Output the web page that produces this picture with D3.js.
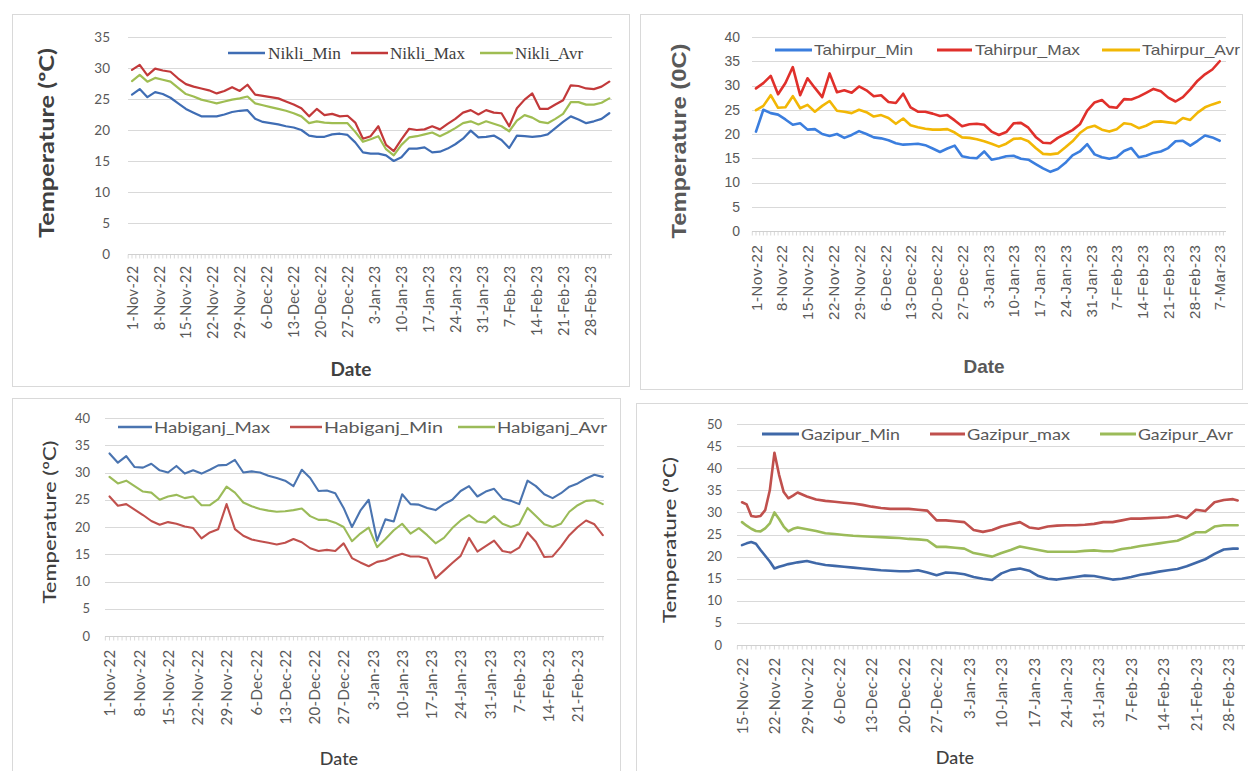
<!DOCTYPE html>
<html>
<head>
<meta charset="utf-8">
<script src="https://cdn.jsdelivr.net/npm/d3@7"></script>
<style>
  body { margin: 0; background: #fff; }
  svg { display: block; }
</style>
</head>
<body>
<svg id="chart" width="1248" height="771"></svg>
<script>
// ---------- Nikli (1 Nov 2022 onward, every second day) ----------
const nikliDays = d3.range(0, 125, 2);
const nikliTicks = ["1-Nov-22","8-Nov-22","15-Nov-22","22-Nov-22","29-Nov-22","6-Dec-22","13-Dec-22","20-Dec-22","27-Dec-22","3-Jan-23","10-Jan-23","17-Jan-23","24-Jan-23","31-Jan-23","7-Feb-23","14-Feb-23","21-Feb-23","28-Feb-23"];
const nikliMin = [25.7,26.6,25.3,26.1,25.8,25.2,24.3,23.4,22.8,22.2,22.2,22.2,22.5,22.9,23.1,23.2,21.8,21.3,21.1,20.9,20.6,20.4,20.0,19.1,18.9,18.9,19.3,19.4,19.2,18.0,16.4,16.2,16.2,15.9,15.0,15.6,17.0,17.0,17.2,16.4,16.5,17.0,17.7,18.6,19.9,18.8,18.9,19.1,18.4,17.1,19.1,19.0,18.9,19.0,19.3,20.3,21.3,22.2,21.7,21.1,21.4,21.8,22.7];
const nikliMax = [29.7,30.5,28.8,29.9,29.6,29.4,28.3,27.4,27.0,26.7,26.4,25.9,26.3,26.9,26.3,27.3,25.7,25.5,25.3,25.1,24.6,24.1,23.5,22.2,23.4,22.4,22.6,22.2,22.3,21.2,18.6,19.0,20.6,17.6,16.6,18.5,20.2,20.0,20.1,20.6,20.1,21.0,21.8,22.8,23.2,22.5,23.2,22.8,22.7,20.6,23.5,24.9,25.9,23.4,23.4,24.1,24.8,27.2,27.1,26.7,26.6,27.0,27.8];
const nikliAvr = [27.9,28.9,27.8,28.4,28.1,27.8,26.8,25.8,25.4,24.9,24.6,24.3,24.6,24.9,25.1,25.4,24.3,24.0,23.7,23.4,23.1,22.7,22.2,21.1,21.4,21.2,21.1,21.1,21.1,19.7,18.1,18.5,19.0,16.9,15.9,17.6,18.8,19.0,19.3,19.6,19.0,19.6,20.3,21.1,21.4,20.9,21.4,21.0,20.6,19.8,21.5,22.4,22.0,21.3,21.1,21.8,22.6,24.5,24.5,24.1,24.1,24.4,25.1];

// ---------- Tahirpur (1 Nov 2022 onward, every second day) ----------
const tahirpurDays = d3.range(0, 127, 2);
const tahirpurTicks = ["1-Nov-22","8-Nov-22","15-Nov-22","22-Nov-22","29-Nov-22","6-Dec-22","13-Dec-22","20-Dec-22","27-Dec-22","3-Jan-23","10-Jan-23","17-Jan-23","24-Jan-23","31-Jan-23","7-Feb-23","14-Feb-23","21-Feb-23","28-Feb-23","7-Mar-23"];
const tahirpurMin = [20.5,25.0,24.3,24.0,23.0,21.9,22.2,20.9,21.0,20.0,19.6,20.0,19.2,19.8,20.6,20.0,19.3,19.1,18.7,18.1,17.8,17.9,18.0,17.7,17.0,16.3,17.0,17.6,15.4,15.1,15.0,16.4,14.7,15.0,15.4,15.5,14.9,14.7,13.8,12.9,12.2,12.8,14.0,15.6,16.4,17.9,15.8,15.2,14.9,15.2,16.5,17.1,15.2,15.5,16.1,16.4,17.1,18.5,18.6,17.6,18.6,19.7,19.3,18.6];
const tahirpurMax = [29.4,30.5,32.0,28.2,30.5,33.8,28.0,31.5,29.5,27.6,32.5,28.6,29.0,28.5,29.8,29.0,27.8,28.0,26.6,26.4,28.3,25.5,24.6,24.6,24.2,23.7,23.9,22.8,21.6,22.0,22.1,21.9,20.5,19.8,20.4,22.2,22.3,21.3,19.4,18.2,18.1,19.2,20.0,20.8,22.0,24.8,26.5,27.0,25.6,25.4,27.2,27.1,27.7,28.5,29.3,28.8,27.5,26.7,27.6,29.2,31.0,32.3,33.3,35.0];
const tahirpurAvr = [24.9,25.8,28.0,25.4,25.5,27.8,25.3,26.0,24.6,25.8,26.8,24.8,24.6,24.3,25.0,24.5,23.6,23.9,23.3,22.1,23.2,21.8,21.4,21.1,20.9,20.9,21.0,20.3,19.3,19.2,18.9,18.5,18.0,17.4,18.0,19.0,19.1,18.5,17.1,15.9,15.8,16.0,17.2,18.5,20.2,21.3,21.7,20.9,20.5,21.0,22.2,22.0,21.2,21.7,22.5,22.6,22.4,22.2,23.3,22.9,24.4,25.5,26.1,26.6];

// ---------- Habiganj (1 Nov 2022 onward, every second day) ----------
const habiganjDays = d3.range(0, 119, 2);
const habiganjTicks = ["1-Nov-22","8-Nov-22","15-Nov-22","22-Nov-22","29-Nov-22","6-Dec-22","13-Dec-22","20-Dec-22","27-Dec-22","3-Jan-23","10-Jan-23","17-Jan-23","24-Jan-23","31-Jan-23","7-Feb-23","14-Feb-23","21-Feb-23"];
const habiganjMax = [33.5,31.8,33.0,31.0,30.9,31.6,30.4,30.0,31.2,29.8,30.4,29.8,30.5,31.3,31.4,32.3,30.0,30.2,30.0,29.4,29.0,28.5,27.5,30.5,29.0,26.6,26.7,26.2,23.5,20.0,23.0,25.0,17.5,21.4,21.0,26.0,24.2,24.1,23.5,23.1,24.2,25.0,26.6,27.5,25.6,26.5,27.0,25.2,24.8,24.2,28.5,27.5,26.0,25.3,26.2,27.4,28.0,28.9,29.6,29.2];
const habiganjMin = [25.6,23.9,24.2,23.2,22.2,21.1,20.4,20.9,20.6,20.1,19.8,17.9,19.0,19.6,24.2,19.6,18.4,17.7,17.4,17.1,16.8,17.1,17.8,17.2,16.1,15.6,15.8,15.6,17.0,14.3,13.5,12.8,13.6,13.9,14.6,15.1,14.6,14.6,14.2,10.6,12.0,13.4,14.7,18.0,15.5,16.5,17.5,15.6,15.3,16.2,19.0,17.3,14.5,14.6,16.4,18.5,20.0,21.2,20.5,18.5];
const habiganjAvr = [29.2,28.0,28.5,27.5,26.5,26.3,25.0,25.6,25.9,25.3,25.6,24.0,24.0,25.1,27.4,26.3,24.5,23.8,23.3,23.0,22.8,22.9,23.1,23.4,22.0,21.3,21.3,20.8,20.0,17.4,18.8,19.9,16.3,17.8,19.4,20.6,18.8,19.8,18.5,17.0,18.0,19.8,21.2,22.2,21.0,20.8,22.0,20.6,20.0,20.5,23.5,22.0,20.5,20.0,20.6,22.8,24.0,24.8,24.9,24.2];

// ---------- Gazipur (15 Nov 2022 onward; daily for the first 12 days) ----------
const gazipurDays = d3.range(0, 13).concat(d3.range(14, 107, 2), [107]);
const gazipurTicks = ["15-Nov-22","22-Nov-22","29-Nov-22","6-Dec-22","13-Dec-22","20-Dec-22","27-Dec-22","3-Jan-23","10-Jan-23","17-Jan-23","24-Jan-23","31-Jan-23","7-Feb-23","14-Feb-23","21-Feb-23","28-Feb-23"];
const gazipurMin = [22.6,23.0,23.3,22.9,21.5,20.2,18.9,17.3,17.7,18.0,18.3,18.5,18.7,19.0,18.5,18.1,17.9,17.7,17.5,17.3,17.1,16.9,16.8,16.7,16.7,16.9,16.4,15.8,16.4,16.3,16.0,15.4,15.0,14.7,16.2,17.0,17.3,16.8,15.6,15.0,14.8,15.1,15.4,15.7,15.6,15.2,14.8,15.0,15.4,15.9,16.2,16.6,16.9,17.2,17.8,18.6,19.4,20.6,21.6,21.8,21.8];
const gazipurMax = [32.3,31.8,29.2,29.0,29.2,30.5,35.0,43.5,38.5,34.6,33.2,33.8,34.5,33.6,32.9,32.6,32.4,32.2,32.0,31.7,31.3,31.0,30.8,30.8,30.8,30.6,30.4,28.2,28.2,28.0,27.8,26.0,25.6,26.0,26.8,27.3,27.8,26.6,26.3,26.8,27.0,27.1,27.1,27.2,27.4,27.8,27.8,28.2,28.6,28.6,28.7,28.8,28.9,29.3,28.7,30.6,30.3,32.3,32.8,33.0,32.7];
const gazipurAvr = [27.8,27.0,26.3,25.8,25.7,26.4,27.5,30.0,28.5,26.8,25.7,26.3,26.6,26.2,25.8,25.3,25.1,24.9,24.7,24.6,24.5,24.4,24.3,24.2,24.0,23.9,23.7,22.2,22.2,22.0,21.8,20.8,20.4,20.0,20.8,21.5,22.3,21.9,21.5,21.1,21.1,21.1,21.1,21.3,21.4,21.2,21.2,21.7,22.0,22.4,22.7,23.0,23.3,23.6,24.5,25.5,25.5,26.8,27.1,27.1,27.1];

const svg = d3.select("#chart");
const parseISO = d3.timeParse("%Y-%m-%d");
const parseTick = d3.timeParse("%d-%b-%y");

const LATO = "Lato, 'Open Sans', sans-serif";
const ARIAL = "'Liberation Sans', Arial, sans-serif";
const SERIF = "'Liberation Serif', 'Times New Roman', serif";

const panels = [
  {
    frame: [12, 14, 617, 372], start: "2022-11-01", days: nikliDays, ticks: nikliTicks,
    dom: [-1.04, 124.7], left: 128, right: 612, top: 37, bottom: 254, yMax: 35,
    yLabelX: 110, xLabelGap: 11, tickFont: LATO, tickSize: 13.5, xTickSize: 14.5, xTickSpacing: 0.3, tickColor: "#595959",
    lw: 2.2,
    series: [
      { v: nikliMin, c: "#3f6db4", name: "Nikli_Min", lg: [228, 265, 268, 73] },
      { v: nikliMax, c: "#c2393a", name: "Nikli_Max", lg: [351, 388, 390, 75] },
      { v: nikliAvr, c: "#9fbd52", name: "Nikli_Avr", lg: [480, 513, 515, 68] }
    ],
    legendY: 53, legendFont: SERIF, legendSize: 16, legendColor: "#404040",
    yTitle: "Temperature (ºC)", yTitlePos: [47, 143], yTitleLen: 190, yTitleFont: LATO, yTitleSize: 20, yTitleWeight: 700, titleColor: "#404040",
    xTitlePos: [351, 369], xTitleFont: LATO, xTitleSize: 19, xTitleWeight: 700
  },
  {
    frame: [640, 14, 602, 375], start: "2022-11-01", days: tahirpurDays, ticks: tahirpurTicks,
    dom: [-1.09, 127.7], left: 752, right: 1226, top: 37, bottom: 231, yMax: 40,
    yLabelX: 740, xLabelGap: 13, tickFont: ARIAL, tickSize: 14, xTickSize: 15, xTickSpacing: 0.6, tickColor: "#595959",
    lw: 2.6,
    series: [
      { v: tahirpurMin, c: "#3b7ede", name: "Tahirpur_Min", lg: [775, 812, 814, 99] },
      { v: tahirpurMax, c: "#e0302b", name: "Tahirpur_Max", lg: [937, 972, 975, 105] },
      { v: tahirpurAvr, c: "#f2b705", name: "Tahirpur_Avr", lg: [1102, 1140, 1142, 98] }
    ],
    legendY: 50, legendFont: ARIAL, legendSize: 15, legendColor: "#595959",
    yTitle: "Temperature (0C)", yTitlePos: [679, 141], yTitleLen: 195, yTitleFont: ARIAL, yTitleSize: 20, yTitleWeight: 700, titleColor: "#595959",
    xTitlePos: [984, 366], xTitleFont: ARIAL, xTitleSize: 19, xTitleWeight: 700
  },
  {
    frame: [12, 398, 608, 380], start: "2022-11-01", days: habiganjDays, ticks: habiganjTicks,
    dom: [-1.08, 118.3], left: 105, right: 604, top: 418, bottom: 636, yMax: 40,
    yLabelX: 90, xLabelGap: 13, tickFont: LATO, tickSize: 13, xTickSize: 15, xTickSpacing: 0.3, tickColor: "#595959",
    lw: 2.1,
    series: [
      { v: habiganjMax, c: "#4a74b0", name: "Habiganj_Max", lg: [118, 152, 154, 116] },
      { v: habiganjMin, c: "#c0504d", name: "Habiganj_Min", lg: [290, 322, 324, 119] },
      { v: habiganjAvr, c: "#9bbb59", name: "Habiganj_Avr", lg: [458, 495, 497, 110] }
    ],
    legendY: 427, legendFont: LATO, legendSize: 16, legendColor: "#595959",
    yTitle: "Temperature (ºC)", yTitlePos: [50, 522], yTitleLen: 163, yTitleFont: LATO, yTitleSize: 18, yTitleWeight: 500, titleColor: "#404040",
    xTitlePos: [339, 759], xTitleFont: LATO, xTitleSize: 18, xTitleWeight: 500
  },
  {
    frame: [636, 403, 620, 380], start: "2022-11-15", days: gazipurDays, ticks: gazipurTicks,
    dom: [-1.08, 108.6], left: 737, right: 1245, top: 424, bottom: 645, yMax: 50,
    yLabelX: 722, xLabelGap: 12, tickFont: LATO, tickSize: 13, xTickSize: 15, xTickSpacing: 0.4, tickColor: "#595959",
    lw: 2.6,
    series: [
      { v: gazipurMin, c: "#3f68a8", name: "Gazipur_Min", lg: [762, 799, 801, 99] },
      { v: gazipurMax, c: "#c0504d", name: "Gazipur_max", lg: [930, 965, 967, 103] },
      { v: gazipurAvr, c: "#9bbb59", name: "Gazipur_Avr", lg: [1100, 1136, 1138, 95] }
    ],
    legendY: 434, legendFont: LATO, legendSize: 16, legendColor: "#595959",
    yTitle: "Temperature (ºC)", yTitlePos: [670, 540], yTitleLen: 166, yTitleFont: LATO, yTitleSize: 18, yTitleWeight: 500, titleColor: "#404040",
    xTitlePos: [955, 758], xTitleFont: LATO, xTitleSize: 18, xTitleWeight: 500
  }
];

function drawPanel(p) {
  const g = svg.append("g");
  const [fx, fy, fw, fh] = p.frame;
  g.append("rect").attr("x", fx + 0.5).attr("y", fy + 0.5).attr("width", fw).attr("height", fh)
    .attr("fill", "#fff").attr("stroke", "#d9d9d9");

  const start = parseISO(p.start);
  const at = d => d3.timeHour.offset(start, Math.round(d * 24));
  const x = d3.scaleTime().domain([at(p.dom[0]), at(p.dom[1])]).range([p.left, p.right]);
  const y = d3.scaleLinear().domain([0, p.yMax]).range([p.bottom, p.top]);
  const yTicks = d3.range(0, p.yMax + 1, 5);

  // horizontal gridlines
  g.append("g").selectAll("line").data(yTicks.filter(v => v > 0)).join("line")
    .attr("x1", p.left).attr("x2", p.right)
    .attr("y1", d => Math.round(y(d)) + 0.5).attr("y2", d => Math.round(y(d)) + 0.5)
    .attr("stroke", "#d9d9d9").attr("stroke-width", 1);

  // category axis with a small mark for every day
  const y0 = Math.round(y(0)) + 0.5;
  g.append("line").attr("x1", p.left).attr("x2", p.right).attr("y1", y0).attr("y2", y0)
    .attr("stroke", "#d0d0d0");
  const dayMarks = d3.timeDay.range(at(Math.ceil(p.dom[0])), at(p.dom[1]));
  g.append("g").selectAll("line").data(dayMarks).join("line")
    .attr("x1", d => x(d)).attr("x2", d => x(d)).attr("y1", y0).attr("y2", y0 + 4)
    .attr("stroke", "#cfcfcf").attr("stroke-width", 0.8);

  // value labels
  g.append("g").selectAll("text").data(yTicks).join("text")
    .attr("x", p.yLabelX).attr("y", d => y(d)).attr("dy", "0.35em")
    .attr("text-anchor", "end")
    .attr("font-family", p.tickFont).attr("font-size", p.tickSize).attr("fill", p.tickColor)
    .text(d => d);

  // date labels
  const tickDates = p.ticks.map(parseTick);
  const ax = g.append("g").attr("transform", `translate(0,${y0})`)
    .call(d3.axisBottom(x).tickValues(tickDates).tickFormat((d, i) => p.ticks[i]).tickSize(0));
  ax.select(".domain").remove();
  ax.attr("font-family", p.tickFont).attr("font-size", p.xTickSize);
  ax.selectAll("text")
    .attr("transform", "rotate(-90)")
    .attr("x", -p.xLabelGap).attr("y", 0).attr("dy", "0.35em")
    .attr("letter-spacing", p.xTickSpacing)
    .attr("text-anchor", "end").attr("fill", p.tickColor);

  // series lines
  const dates = p.days.map(at);
  p.series.forEach(s => {
    const n = Math.min(s.v.length, dates.length);
    const line = d3.line().x((d, i) => x(dates[i])).y(d => y(d));
    g.append("path").datum(s.v.slice(0, n))
      .attr("d", line).attr("fill", "none")
      .attr("stroke", s.c).attr("stroke-width", p.lw)
      .attr("stroke-linejoin", "round").attr("stroke-linecap", "round");
  });

  // legend
  p.series.forEach(s => {
    const [lx1, lx2, tx, tl] = s.lg;
    g.append("line").attr("x1", lx1).attr("x2", lx2).attr("y1", p.legendY).attr("y2", p.legendY)
      .attr("stroke", s.c).attr("stroke-width", p.lw + 0.4);
    g.append("text").attr("x", tx).attr("y", p.legendY).attr("dy", "0.35em")
      .attr("font-family", p.legendFont).attr("font-size", p.legendSize).attr("fill", p.legendColor)
      .attr("textLength", tl).attr("lengthAdjust", "spacingAndGlyphs")
      .text(s.name);
  });

  // axis titles
  g.append("text")
    .attr("transform", `translate(${p.yTitlePos[0]},${p.yTitlePos[1]}) rotate(-90)`)
    .attr("text-anchor", "middle").attr("dy", "0.35em")
    .attr("font-family", p.yTitleFont).attr("font-size", p.yTitleSize).attr("font-weight", p.yTitleWeight)
    .attr("fill", p.titleColor)
    .attr("textLength", p.yTitleLen).attr("lengthAdjust", "spacingAndGlyphs")
    .text(p.yTitle);
  g.append("text")
    .attr("x", p.xTitlePos[0]).attr("y", p.xTitlePos[1]).attr("dy", "0.35em")
    .attr("text-anchor", "middle")
    .attr("font-family", p.xTitleFont).attr("font-size", p.xTitleSize).attr("font-weight", p.xTitleWeight)
    .attr("fill", p.titleColor)
    .text("Date");
}

panels.forEach(drawPanel);
</script>
</body>
</html>
